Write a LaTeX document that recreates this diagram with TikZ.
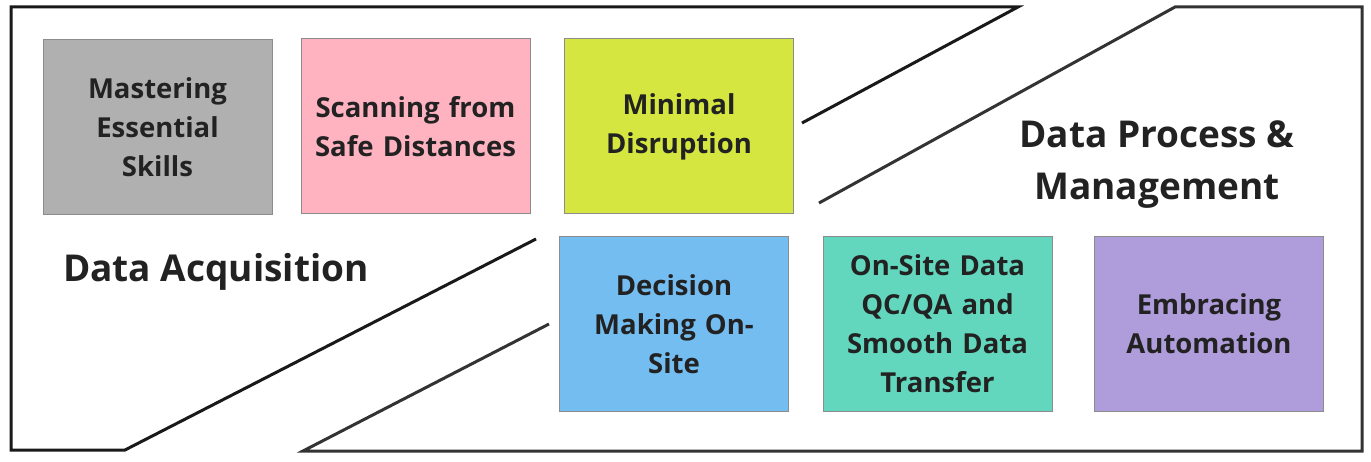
\documentclass[tikz,border=0pt]{standalone}
\usepackage{fontspec}
\setmainfont{Open Sans}
\definecolor{cgray}{HTML}{B0B0B0}
\definecolor{cpink}{HTML}{FFB3C1}
\definecolor{cgreen}{HTML}{D4E63F}
\definecolor{cblue}{HTML}{74BDF0}
\definecolor{cteal}{HTML}{63D7BE}
\definecolor{cpurple}{HTML}{AF9CDA}
\definecolor{ctext}{HTML}{222222}
\begin{document}
\begin{tikzpicture}[x=1pt,y=-1pt,
  card/.style={draw=black!45,line width=1pt,minimum width=229pt,minimum height=175pt,
    inner sep=0pt,text width=222pt,align=center,text=ctext,
    font=\fontsize{27.5}{39}\selectfont\bfseries},
  outline/.style={draw=black!90,line width=3pt,line join=miter},
  heading/.style={text=ctext,align=center,font=\fontsize{37}{52}\selectfont\bfseries,inner sep=0pt}]
\useasboundingbox (0,0) rectangle (1371,462);
% left region outline
\coordinate (a1) at (802,123);
\coordinate (a2) at (1018,7);
\coordinate (a3) at (11,7);
\coordinate (a4) at (11,450);
\coordinate (a5) at (125,450);
\coordinate (a6) at (536,239);
\draw[outline] (a1) -- (a2) -- (a3) -- (a4) -- (a5) -- (a6);
% right region outline
\coordinate (b1) at (819,203);
\coordinate (b2) at (1175,7);
\coordinate (b3) at (1362,7);
\coordinate (b4) at (1362,451);
\coordinate (b5) at (303,451);
\coordinate (b6) at (549,324);
\draw[outline,draw=black!80] (b1) -- (b2) -- (b3) -- (b4) -- (b5) -- (b6);
% cards
\node[card,fill=cgray] (mast) at (157.5,127.5) {Mastering\\Essential\\Skills};
\node[card,fill=cpink] (scan) at (415.5,126.5) {Scanning from\\Safe Distances};
\node[card,fill=cgreen] (mini) at (679,126.5) {Minimal\\Disruption};
\node[card,fill=cblue] (deci) at (674,324) {Decision\\Making On-\\Site};
\node[card,fill=cteal] (onsi) at (937.5,324) {On-Site Data\\QC/QA and\\Smooth Data\\Transfer};
\node[card,fill=cpurple] (embr) at (1209,324) {Embracing\\Automation};
% headings
\node[heading] (acq) at (216,272) {Data Acquisition};
\node[heading] (proc) at (1157,165) {Data Process \&\\Management};
\end{tikzpicture}
\end{document}
